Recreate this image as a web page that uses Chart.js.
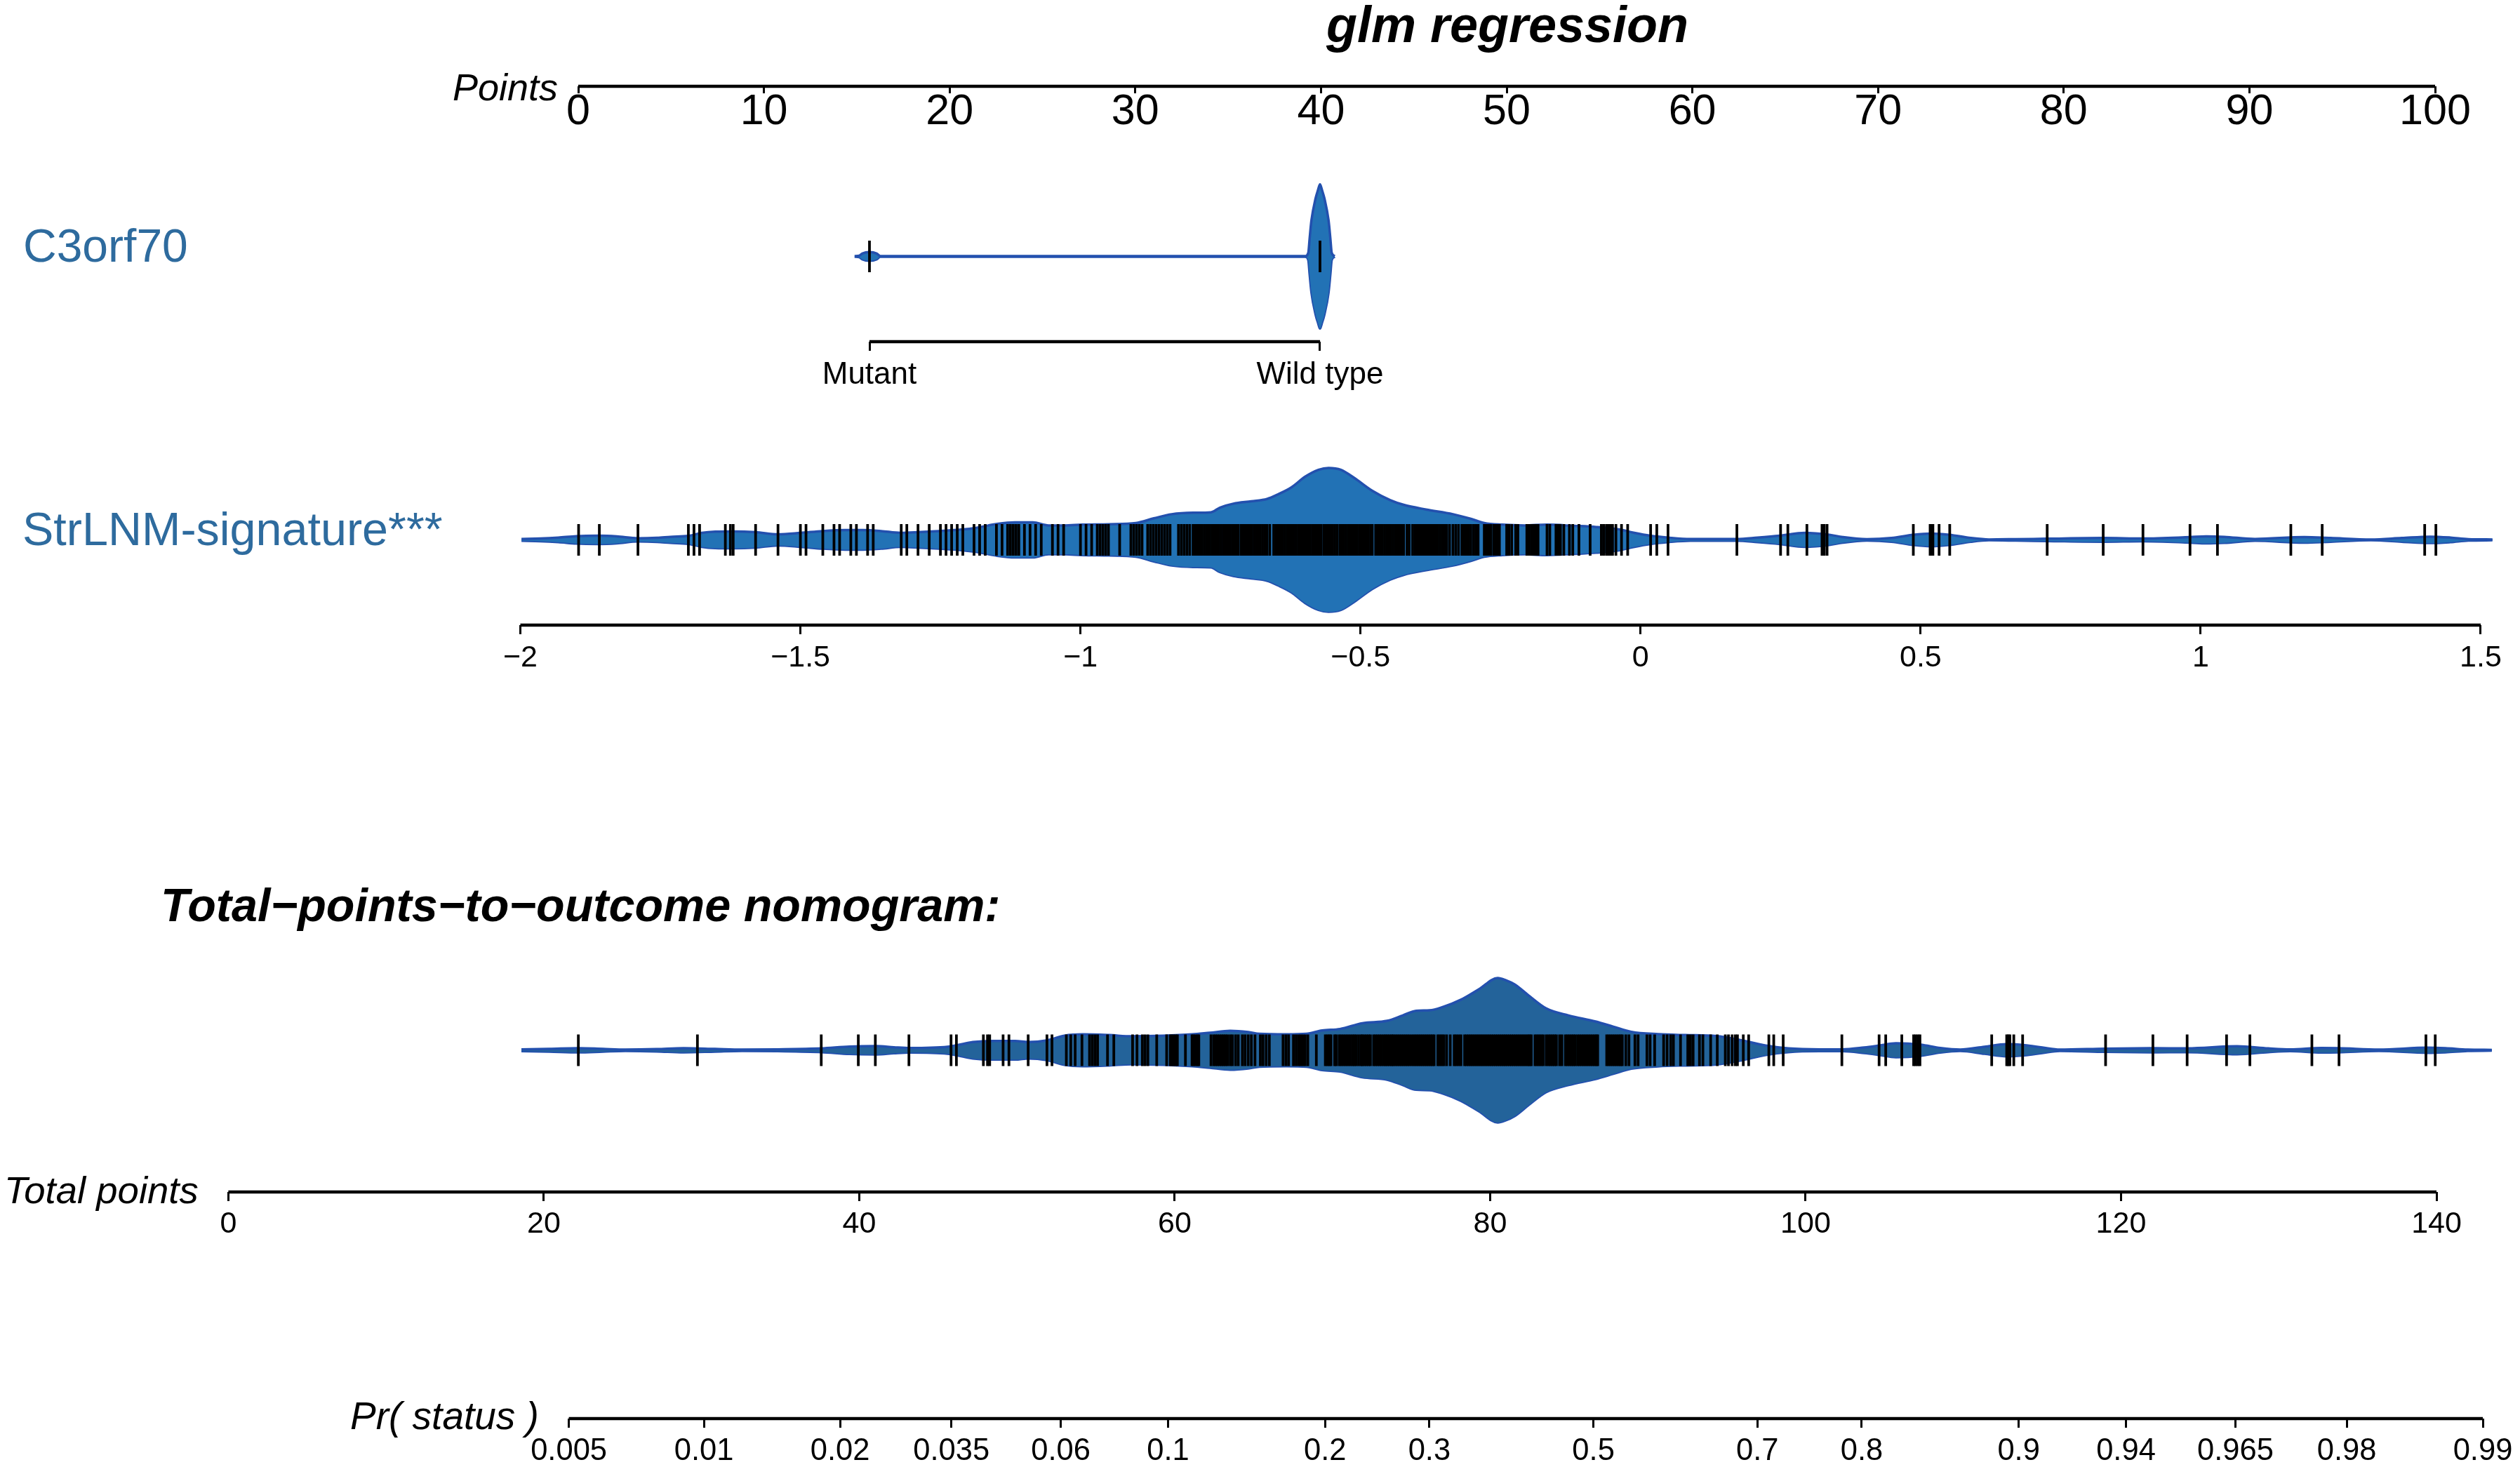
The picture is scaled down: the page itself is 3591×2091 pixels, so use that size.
<!DOCTYPE html>
<html>
<head>
<meta charset="utf-8">
<title>glm regression nomogram</title>
<script src="https://cdn.jsdelivr.net/npm/chart.js@4/dist/chart.umd.min.js"></script>
<style>
  html, body { margin: 0; padding: 0; background: #fff; }
  canvas { display: block; }
</style>
</head>
<body>
<canvas id="nomogram" width="3591" height="2091"></canvas>
<script>
// --- Data ---
const pointsTicks = [0, 10, 20, 30, 40, 50, 60, 70, 80, 90, 100];
const sigTicks = [-2, -1.5, -1, -0.5, 0, 0.5, 1, 1.5];
const totalTicks = [0, 20, 40, 60, 80, 100, 120, 140];
const probTicks = [0.005, 0.01, 0.02, 0.035, 0.06, 0.1, 0.2, 0.3, 0.5, 0.7, 0.8, 0.9, 0.94, 0.965, 0.98, 0.99];
const catLabels = ['Mutant', 'Wild type'];

// C3orf70: 0 = Mutant, 1 = Wild type
const catRug = [0, 1];
const catGrid = [-0.033, -0.023, -0.016, 0, 0.016, 0.024, 0.5, 0.967, 0.974, 0.977, 0.981, 0.99, 0.996, 1, 1.004, 1.01, 1.019, 1.023, 1.026, 1.033];
const catDensity = [0.005, 0.01, 0.04, 0.06, 0.04, 0.005, 0.005, 0.005, 0.05, 0.25, 0.5, 0.8, 0.93, 1, 0.93, 0.8, 0.5, 0.25, 0.05, 0.005];

// StrLNM-signature: violin outline (density relative to the peak) and rug
const sigGrid = [-1.998, -1.964, -1.932, -1.9, -1.86, -1.828, -1.79, -1.756, -1.732, -1.7, -1.676, -1.652, -1.62, -1.58, -1.54, -1.5, -1.46, -1.42, -1.388, -1.356, -1.321, -1.285, -1.253, -1.213, -1.185, -1.149, -1.117, -1.085, -1.057, -1.029, -0.997, -0.949, -0.901, -0.869, -0.837,
  -0.799, -0.767, -0.751, -0.727, -0.695, -0.667, -0.647, -0.623, -0.599, -0.575, -0.557, -0.535, -0.511, -0.479, -0.447, -0.423, -0.383, -0.335, -0.303, -0.279, -0.247, -0.207, -0.167, -0.119, -0.079, -0.039, -0.011, 0.017, 0.049, 0.089, 0.145, 0.172, 0.209, 0.249, 0.293, 0.337, 0.361,
  0.404, 0.448, 0.487, 0.519, 0.551, 0.59, 0.622, 0.67, 0.725, 0.826, 0.897, 0.981, 1.01, 1.042, 1.097, 1.185, 1.232, 1.304, 1.359, 1.41, 1.446, 1.478, 1.521];
const sigDensity = [0.013, 0.019, 0.032, 0.052, 0.058, 0.049, 0.023, 0.029, 0.042, 0.055, 0.097, 0.114, 0.117, 0.107, 0.078, 0.097, 0.123, 0.136, 0.136, 0.123, 0.097, 0.11, 0.123, 0.143, 0.169, 0.221, 0.244, 0.244, 0.201, 0.201, 0.211, 0.218, 0.234, 0.299, 0.357,
  0.377, 0.383, 0.448, 0.503, 0.536, 0.568, 0.633, 0.731, 0.877, 0.974, 1, 0.974, 0.86, 0.682, 0.552, 0.487, 0.422, 0.357, 0.292, 0.234, 0.211, 0.201, 0.211, 0.195, 0.179, 0.146, 0.097, 0.058, 0.032, 0.013, 0.013, 0.013, 0.032, 0.058, 0.097, 0.071, 0.039,
  0.01, 0.026, 0.071, 0.088, 0.071, 0.026, 0.006, 0.01, 0.016, 0.026, 0.019, 0.039, 0.049, 0.042, 0.013, 0.039, 0.026, 0.006, 0.026, 0.045, 0.032, 0.01, 0.006];
const sigRug = [-1.896, -1.859, -1.79, -1.7, -1.69, -1.68, -1.634, -1.625, -1.62, -1.58, -1.54, -1.5, -1.49, -1.46, -1.44, -1.43, -1.41, -1.4, -1.38, -1.37, -1.32, -1.31, -1.29, -1.27, -1.25, -1.24, -1.23, -1.22, -1.21, -1.19, -1.18, -1.17, -1.15, -1.14, -1.13, -1.125, -1.12, -1.115, -1.11, -1.1, -1.09, -1.08, -1.07, -1.05, -1.04, -1.03, -1, -0.99, -0.98, -0.97, -0.965, -0.96, -0.955, -0.95, -0.93, -0.91, -0.905, -0.9, -0.895, -0.89, -0.88, -0.875, -0.87, -0.865, -0.86, -0.855, -0.85, -0.845, -0.84, -0.825, -0.82, -0.815, -0.81, -0.805,
  -0.799, -0.795, -0.791, -0.787, -0.783, -0.779, -0.775, -0.771, -0.769, -0.765, -0.762, -0.759, -0.757, -0.753, -0.749, -0.745, -0.741, -0.737, -0.733, -0.729, -0.726, -0.722, -0.718, -0.713, -0.71, -0.706, -0.702, -0.698, -0.694, -0.69, -0.686, -0.682, -0.679, -0.675, -0.671, -0.667, -0.662, -0.655, -0.651, -0.647, -0.643, -0.639, -0.635, -0.631, -0.627, -0.623, -0.619, -0.615, -0.611, -0.607, -0.603, -0.601,
  -0.598, -0.594, -0.59, -0.586, -0.582, -0.578, -0.574, -0.57, -0.565, -0.562, -0.558, -0.554, -0.55, -0.546, -0.542, -0.537, -0.534, -0.53, -0.526, -0.522, -0.518, -0.514, -0.51, -0.506, -0.502, -0.498, -0.494, -0.49, -0.486, -0.482, -0.479, -0.473, -0.469, -0.465, -0.461, -0.457, -0.453, -0.45, -0.446, -0.442, -0.438, -0.434, -0.43, -0.426, -0.423,
  -0.417, -0.413, -0.407, -0.403, -0.399, -0.395, -0.392, -0.389, -0.385, -0.381, -0.377, -0.374, -0.37, -0.366, -0.362, -0.358, -0.354, -0.35, -0.346, -0.341, -0.335, -0.33, -0.325, -0.319, -0.315, -0.311, -0.307, -0.303, -0.298, -0.294, -0.29, -0.279, -0.275, -0.271, -0.267, -0.262, -0.258, -0.255, -0.252, -0.239, -0.235, -0.23, -0.223, -0.219, -0.203, -0.199, -0.195, -0.191, -0.187, -0.183, -0.167, -0.162, -0.151, -0.147, -0.143, -0.137, -0.127, -0.121, -0.11, -0.09, -0.07, -0.066, -0.061, -0.057, -0.054, -0.05, -0.044, -0.034, -0.023,
  0.018, 0.029, 0.049, 0.172, 0.25, 0.263, 0.297, 0.324, 0.328, 0.333, 0.487, 0.517, 0.519, 0.522, 0.533, 0.552, 0.726, 0.826, 0.897, 0.981, 1.03, 1.161, 1.217, 1.4, 1.42];

// Total points: violin outline and rug
const totalGrid = [18.58, 20.34, 22.19, 23.75, 25.17, 27.16, 28.86, 30.85, 32.56, 34.83, 37.59, 39.38, 41.08, 42.2, 43.2, 45.6, 46.2, 47.2, 48.47, 49.89, 50.74, 51.88, 53, 54.15, 55.85, 57.27, 59.26,
  61.11, 62.24, 63.52, 64.66, 65.37, 67.07, 68.35, 69.35, 70.48, 71.9, 73.47, 74.46, 75.31, 76.16, 77.02, 78.15, 79.29, 80.48, 80.99, 81.56, 82.41, 83.55, 84.97, 86.68, 87.81, 88.95, 90.65, 92.36, 94.35, 95.77, 97.47, 98.9, 100.9, 102.3, 103.72,
  104.66, 105.73, 107.28, 108.54, 109.8, 111.35, 112.75, 113.88, 115, 116.12, 119.02, 122.02, 124.19, 127.36, 129.33, 130.73, 132.7, 133.82, 136.35, 139.44, 140.56, 141.97, 143.51];
const totalDensity = [0.013, 0.019, 0.029, 0.019, 0.01, 0.016, 0.029, 0.019, 0.01, 0.013, 0.026, 0.052, 0.058, 0.042, 0.032, 0.049, 0.071, 0.113, 0.129, 0.129, 0.113, 0.136, 0.201, 0.22, 0.21, 0.194, 0.201,
  0.22, 0.243, 0.269, 0.252, 0.227, 0.22, 0.227, 0.275, 0.295, 0.375, 0.408, 0.482, 0.547, 0.553, 0.6, 0.7, 0.845, 1, 0.97, 0.91, 0.764, 0.58, 0.482, 0.398, 0.327, 0.256, 0.223, 0.21, 0.197, 0.146, 0.065, 0.026, 0.013, 0.013, 0.039,
  0.065, 0.097, 0.078, 0.032, 0.01, 0.049, 0.084, 0.071, 0.039, 0.01, 0.023, 0.029, 0.026, 0.055, 0.026, 0.013, 0.032, 0.029, 0.01, 0.036, 0.029, 0.01, 0.006];
const totalRug = [22.19, 29.74, 37.59, 39.94, 41.02, 43.15, 45.82, 46.16, 47.87, 48.13, 48.27, 49.12, 49.49, 50.71, 51.9, 52.22, 53.13, 53.41, 53.69, 54.12, 54.6, 54.77, 54.94, 55.11, 55.74, 56.14, 57.33, 57.61, 57.95, 58.12, 58.3, 58.86, 59.49, 59.72, 59.83, 59.94, 60.06, 60.17, 60.68,
  61.1, 61.2, 61.32, 61.44, 61.53, 62.3, 62.47, 62.6, 62.72, 62.85, 62.98, 63.1, 63.22, 63.35, 63.52, 63.66, 63.86, 64.03, 64.29, 64.46, 64.66, 64.86, 65.09, 65.43, 65.6, 65.8, 66, 66.87, 67.05, 67.22, 67.53, 67.7, 67.87, 68, 68.13, 68.27, 68.44, 68.98, 69.55, 69.68, 69.8, 69.91, 70.14, 70.25,
  70.43, 70.56, 70.7, 70.84, 70.98, 71.12, 71.26, 71.38, 71.5, 71.66, 71.82, 71.9, 72.03, 72.16, 72.29, 72.41, 72.61, 72.74, 72.87, 73, 73.13, 73.27, 73.38, 73.5, 73.62, 73.75, 73.84, 73.97, 74.1, 74.23, 74.36, 74.49, 74.62, 74.75, 74.88, 75.03, 75.17, 75.3, 75.43, 75.56, 75.69, 75.82, 75.95, 76.08, 76.21, 76.33, 76.45,
  76.68, 76.81, 76.94, 77.07, 77.24, 77.47, 77.72, 77.85, 78, 78.15, 78.38, 78.51, 78.64, 78.77, 78.9, 79.03, 79.16, 79.29, 79.42, 79.55, 79.68, 79.81, 79.94, 80.07, 80.2, 80.33, 80.46, 80.59, 80.72, 80.85, 80.97, 81.1, 81.23, 81.36, 81.49, 81.62, 81.75, 81.88, 82.01, 82.14, 82.27, 82.4, 82.5, 82.61,
  82.84, 82.97, 83.1, 83.23, 83.36, 83.55, 83.7, 83.83, 83.96, 84.08, 84.2, 84.4, 84.55, 84.77, 84.9, 85.03, 85.16, 85.28, 85.4, 85.55, 85.68, 85.82, 85.95, 86.08, 86.21, 86.34, 86.47, 86.6, 86.72, 86.82, 87.39, 87.52, 87.65, 87.78, 87.91, 88.04, 88.17, 88.28, 88.38, 88.6, 88.8, 89.18, 89.38, 89.94, 90.14, 90.43,
  91, 91.22, 91.45, 91.62, 92.07, 92.53, 92.7, 92.87, 93.27, 93.49, 93.98, 94.4, 94.91, 95.11, 95.34, 95.54, 95.68, 96.05, 96.39, 97.67, 97.98, 98.58, 102.3, 104.66, 105.08, 106.1, 106.85, 106.98, 107.12, 107.25, 111.8, 112.75, 112.85, 112.95, 113.2, 113.76, 119.02, 122.02, 124.19, 126.69, 128.17, 132.1, 133.82, 139.33, 139.92];

// --- Layout ---
const W = 3591, H = 2091;
const FONT = '"Liberation Sans", Arial, sans-serif';
const logit = p => Math.log(p / (1 - p));
const minus = v => String(v).replace('-', '\u2212');

// every x scale spans the full canvas, so its bounds come from two known pixels
function xBounds(pxA, valA, pxB, valB) {
    const perPx = (valB - valA) / (pxB - pxA);
    return { min: valA - pxA * perPx, max: valA + (W - pxA) * perPx };
}

// y scale where 0 sits on a row centre and 1 is the violin peak
function yBand(centre, peakPx) {
    return { type: 'linear', axis: 'y', display: false, min: (centre - H) / peakPx, max: centre / peakPx };
}

function xAxis(bounds, rowY, tickValues, labelOf, fontSize, tickLength, padding) {
    return {
        type: 'linear',
        axis: 'x',
        ...bounds,
        position: { yPage: rowY },
        afterBuildTicks: scale => { scale.ticks = tickValues.map(value => ({ value })); },
        border: { display: false },
        grid: { drawOnChartArea: false, drawTicks: true, tickLength, tickWidth: 3, tickColor: '#000' },
        ticks: {
            autoSkip: false,
            minRotation: 0,
            maxRotation: 0,
            padding,
            color: '#000',
            font: { family: FONT, size: fontSize },
            callback: (value, index) => labelOf(index)
        }
    };
}

// --- Datasets ---
function axisLine(xAxisID, rowY, from, to) {
    return {
        type: 'line', xAxisID, yAxisID: 'yPage', order: 2,
        data: [{ x: from, y: rowY }, { x: to, y: rowY }],
        borderColor: '#000', borderWidth: 4.5, pointRadius: 0, borderCapStyle: 'butt'
    };
}

function violin(xAxisID, yAxisID, grid, density, fill, edge) {
    const side = (sign, fillTo) => ({
        type: 'line', xAxisID, yAxisID, order: 1,
        data: grid.map((x, i) => ({ x, y: sign * density[i] })),
        borderColor: edge, borderWidth: 3.5, backgroundColor: fill, fill: fillTo,
        pointRadius: 0, cubicInterpolationMode: 'monotone'
    });
    return [side(1, '+1'), side(-1, false)];
}

function rug(xAxisID, yAxisID, values) {
    return {
        type: 'scatter', xAxisID, yAxisID, order: 0,
        data: values.map(x => ({ x, y: 0 })),
        showLine: false,
        pointStyle: 'line', rotation: 90, radius: 22.5,
        borderColor: '#000', borderWidth: 3.8, backgroundColor: '#000'
    };
}

// --- Text that is not a tick label ---
const pageText = {
    id: 'pageText',
    afterDraw(chart) {
        const ctx = chart.ctx;
        const put = (str, x, y, font, color, align) => {
            ctx.font = `${font} ${FONT}`;
            ctx.fillStyle = color;
            ctx.textAlign = align || 'left';
            ctx.textBaseline = 'alphabetic';
            ctx.fillText(str, x, y);
        };
        ctx.save();
        put('glm regression', 2148, 60, 'italic bold 72px', '#000', 'center');
        put('Points', 645, 143, 'italic 54px', '#000');
        put('C3orf70', 33, 373, '66px', '#2E6B9E');
        put('StrLNM-signature***', 32, 777, '66.5px', '#2E6B9E');
        put('Total\u2212points\u2212to\u2212outcome nomogram:', 229, 1313, 'italic bold 66.5px', '#000');
        put('Total points', 6, 1715, 'italic 54.5px', '#000');
        put('Pr( status )', 499, 2037, 'italic 55px', '#000');
        ctx.restore();
    }
};

// --- Chart ---
const SIG_FILL = '#2272B5', TOTAL_FILL = '#23639A', EDGE = '#2350AE';

new Chart(document.getElementById('nomogram'), {
    type: 'scatter',
    plugins: [pageText],
    data: {
        datasets: [
            axisLine('xPoints', 123, 0, 100),
            axisLine('xCat', 487, 0, 1),
            axisLine('xSig', 891, -2, 1.5),
            axisLine('xTotal', 1699, 0, 140),
            axisLine('xProb', 2022, logit(0.005), logit(0.99)),
            ...violin('xCat', 'yCat', catGrid, catDensity, SIG_FILL, EDGE),
            ...violin('xSig', 'ySig', sigGrid, sigDensity, SIG_FILL, EDGE),
            ...violin('xTotal', 'yTotal', totalGrid, totalDensity, TOTAL_FILL, EDGE),
            rug('xCat', 'yCat', catRug),
            rug('xSig', 'ySig', sigRug),
            rug('xTotal', 'yTotal', totalRug)
        ]
    },
    options: {
        responsive: false,
        animation: false,
        devicePixelRatio: 1,
        layout: { padding: 0, autoPadding: false },
        events: [],
        plugins: { legend: { display: false }, tooltip: { enabled: false } },
        scales: {
            yPage: { type: 'linear', axis: 'y', display: false, reverse: true, min: 0, max: H },
            yCat: yBand(365.5, 102.8),
            ySig: yBand(769.5, 102.6),
            yTotal: yBand(1497, 103),
            xPoints: xAxis(xBounds(824, 0, 3470, 100), 123, pointsTicks, i => pointsTicks[i], 61, 10, -9),
            xCat: xAxis(xBounds(1239, 0, 1881, 1), 487, [0, 1], i => catLabels[i], 44, 13, 8),
            xSig: xAxis(xBounds(741.5, -2, 3535, 1.5), 891, sigTicks, i => minus(sigTicks[i]), 43, 13, 8),
            xTotal: xAxis(xBounds(325.4, 0, 3472, 140), 1699, totalTicks, i => totalTicks[i], 43, 13, 7),
            xProb: xAxis(xBounds(810.6, logit(0.005), 3538, logit(0.99)), 2022, probTicks.map(logit), i => probTicks[i], 43.5, 13, 8)
        }
    }
});
</script>
</body>
</html>
